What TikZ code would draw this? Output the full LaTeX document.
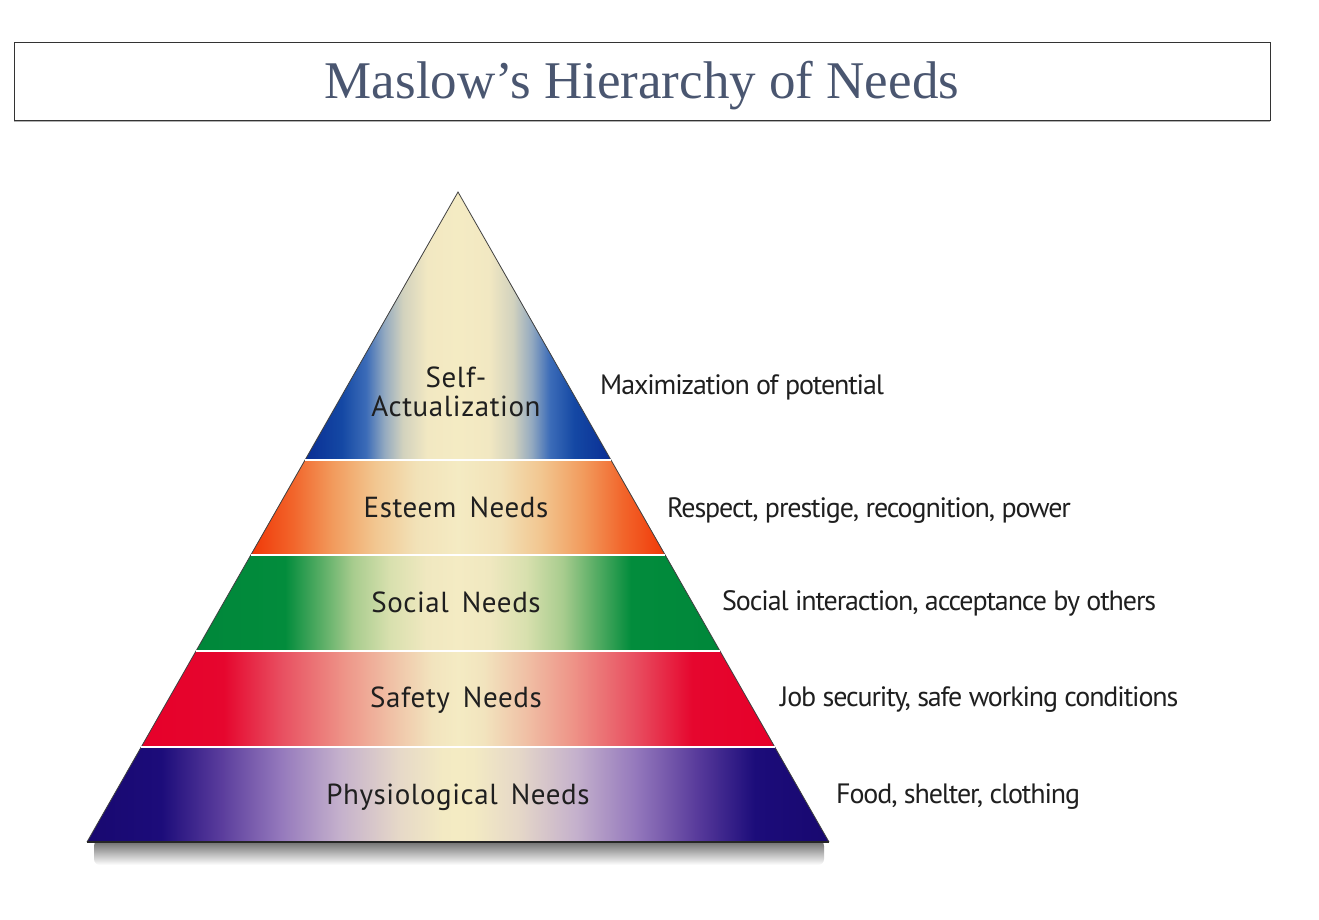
\documentclass[tikz,border=0pt]{standalone}
\usepackage{fontspec}
\setmainfont{Liberation Serif}
\newfontfamily\bandfont{PT Sans}[LetterSpace=2]
\newfontfamily\sidefont{PT Sans}[LetterSpace=-4]
\usetikzlibrary{calc}
\definecolor{titlecol}{HTML}{4A5670}
\definecolor{cream}{HTML}{F4EBC3}
% self
\definecolor{sa0}{HTML}{0A2E94}\definecolor{sa1}{HTML}{1448A4}\definecolor{sa2}{HTML}{3C6CB8}
\definecolor{sa3}{HTML}{94AAC0}\definecolor{sa4}{HTML}{D2D2BE}\definecolor{sa5}{HTML}{F2E8C2}
% esteem
\definecolor{es0}{HTML}{F03808}\definecolor{es1}{HTML}{F2642A}\definecolor{es2}{HTML}{F29C5E}
\definecolor{es3}{HTML}{F2C690}\definecolor{es4}{HTML}{F2E2B8}
% social
\definecolor{so0}{HTML}{00873A}\definecolor{so1}{HTML}{028C3C}\definecolor{so2}{HTML}{5AAE66}
\definecolor{so3}{HTML}{A8CC8E}\definecolor{so4}{HTML}{D8E0AE}\definecolor{so5}{HTML}{F0E8C0}
% safety
\definecolor{sf0}{HTML}{E6002A}\definecolor{sf1}{HTML}{E6062E}\definecolor{sf2}{HTML}{E84E60}
\definecolor{sf3}{HTML}{EE9488}\definecolor{sf4}{HTML}{F0C4A8}\definecolor{sf5}{HTML}{F2E4BE}
% physiological
\definecolor{ph0}{HTML}{180870}\definecolor{ph1}{HTML}{1C0C7A}\definecolor{ph2}{HTML}{5A3C9C}
\definecolor{ph3}{HTML}{9478BC}\definecolor{ph4}{HTML}{C4B0CC}\definecolor{ph5}{HTML}{E6D8C8}
\definecolor{ph6}{HTML}{F3EAC3}
\pgfdeclarehorizontalshading{selfsh}{100bp}{color(0bp)=(sa0); color(25bp)=(sa0); color(31bp)=(sa1); color(35bp)=(sa2); color(38bp)=(sa3); color(41bp)=(sa4); color(45bp)=(sa5); color(50bp)=(cream); color(55bp)=(sa5); color(59bp)=(sa4); color(62bp)=(sa3); color(65bp)=(sa2); color(69bp)=(sa1); color(75bp)=(sa0); color(100bp)=(sa0)}
\pgfdeclarehorizontalshading{esteemsh}{100bp}{color(0bp)=(es0); color(25bp)=(es0); color(30bp)=(es1); color(35bp)=(es2); color(40bp)=(es3); color(45bp)=(es4); color(50bp)=(cream); color(55bp)=(es4); color(60bp)=(es3); color(65bp)=(es2); color(70bp)=(es1); color(75bp)=(es0); color(100bp)=(es0)}
\pgfdeclarehorizontalshading{socialsh}{100bp}{color(0bp)=(so0); color(25bp)=(so0); color(33.5bp)=(so1); color(37bp)=(so2); color(40bp)=(so3); color(43.5bp)=(so4); color(47bp)=(so5); color(50bp)=(cream); color(53bp)=(so5); color(56.5bp)=(so4); color(60bp)=(so3); color(63bp)=(so2); color(66.5bp)=(so1); color(75bp)=(so0); color(100bp)=(so0)}
\pgfdeclarehorizontalshading{safetysh}{100bp}{color(0bp)=(sf0); color(25bp)=(sf0); color(31.5bp)=(sf1); color(36bp)=(sf2); color(41bp)=(sf3); color(45bp)=(sf4); color(48bp)=(sf5); color(50bp)=(cream); color(52bp)=(sf5); color(55bp)=(sf4); color(59bp)=(sf3); color(64bp)=(sf2); color(68.5bp)=(sf1); color(75bp)=(sf0); color(100bp)=(sf0)}
\pgfdeclarehorizontalshading{physsh}{100bp}{color(0bp)=(ph0); color(25bp)=(ph0); color(30bp)=(ph1); color(34bp)=(ph2); color(38bp)=(ph3); color(42bp)=(ph4); color(46bp)=(ph5); color(49bp)=(ph6); color(50bp)=(cream); color(51bp)=(ph6); color(54bp)=(ph5); color(58bp)=(ph4); color(62bp)=(ph3); color(66bp)=(ph2); color(70bp)=(ph1); color(75bp)=(ph0); color(100bp)=(ph0)}
\tikzset{
  bandlabel/.style={font=\bandfont\fontsize{29}{31}\selectfont, text=black!88, inner sep=0pt, align=center},
  sidelabel/.style={font=\sidefont\fontsize{28}{30}\selectfont, text=black!88, inner sep=0pt, anchor=west},
  sep/.style={white, line width=2.5pt},
  edge/.style={black!75, line width=0.8pt}
}
\begin{document}
\begin{tikzpicture}[x=1pt,y=-1pt]
\useasboundingbox (0,0) rectangle (1319,920);
% title box
\draw[gray!60, line width=2pt] (14,121) -- (1270,121);
\draw[black!80, line width=0.9pt] (14,42) rectangle (1270,120);
\node[font=\fontsize{53}{60}\selectfont, text=titlecol, inner sep=0pt] (title) at (642,86) {Maslow’s Hierarchy of Needs};
% pyramid geometry
\coordinate (apex) at (458,192);
\coordinate (bl) at (87,842);
\coordinate (br) at (829,842);
\coordinate (l1) at ($(apex)!0.41231!(bl)$); \coordinate (r1) at ($(apex)!0.41231!(br)$);
\coordinate (l2) at ($(apex)!0.55846!(bl)$); \coordinate (r2) at ($(apex)!0.55846!(br)$);
\coordinate (l3) at ($(apex)!0.70615!(bl)$); \coordinate (r3) at ($(apex)!0.70615!(br)$);
\coordinate (l4) at ($(apex)!0.85385!(bl)$); \coordinate (r4) at ($(apex)!0.85385!(br)$);
% shadow
\shade[top color=black!60, bottom color=white, rounded corners=6pt] (94,840) rectangle (824,865);
% bands
\shade[shading=selfsh] (apex) -- (r1) -- (l1) -- cycle;
\shade[shading=esteemsh] (l1) -- (r1) -- (r2) -- (l2) -- cycle;
\shade[shading=socialsh] (l2) -- (r2) -- (r3) -- (l3) -- cycle;
\shade[shading=safetysh] (l3) -- (r3) -- (r4) -- (l4) -- cycle;
\shade[shading=physsh] (l4) -- (r4) -- (br) -- (bl) -- cycle;
% outline and separators
\draw[edge] (bl) -- (apex) -- (br);
\draw[black!85, line width=1.2pt] (bl) -- (br);
\draw[sep] (l1) -- (r1);
\draw[sep] (l2) -- (r2);
\draw[sep] (l3) -- (r3);
\draw[sep] (l4) -- (r4);
% band labels
\node[bandlabel] (selfl) at (456,392) {Self-\\[-2pt]Actualization};
\node[bandlabel] (esteeml) at (456,507) {Esteem\hspace{0.45em}Needs};
\node[bandlabel] (sociall) at (456,602) {Social\hspace{0.45em}Needs};
\node[bandlabel] (safetyl) at (456,700) {Safety\hspace{0.45em}Needs};
\node[bandlabel] (physl) at (458,797) {Physiological\hspace{0.45em}Needs};
% side labels
\node[sidelabel] (selfd) at (600,387) {Maximization of potential};
\node[sidelabel] (esteemd) at (667,511) {Respect, prestige, recognition, power};
\node[sidelabel] (sociald) at (722,603) {Social interaction, acceptance by others};
\node[sidelabel] (safetyd) at (780,700) {Job security, safe working conditions};
\node[sidelabel] (physd) at (836,797) {Food, shelter, clothing};
\end{tikzpicture}
\end{document}
